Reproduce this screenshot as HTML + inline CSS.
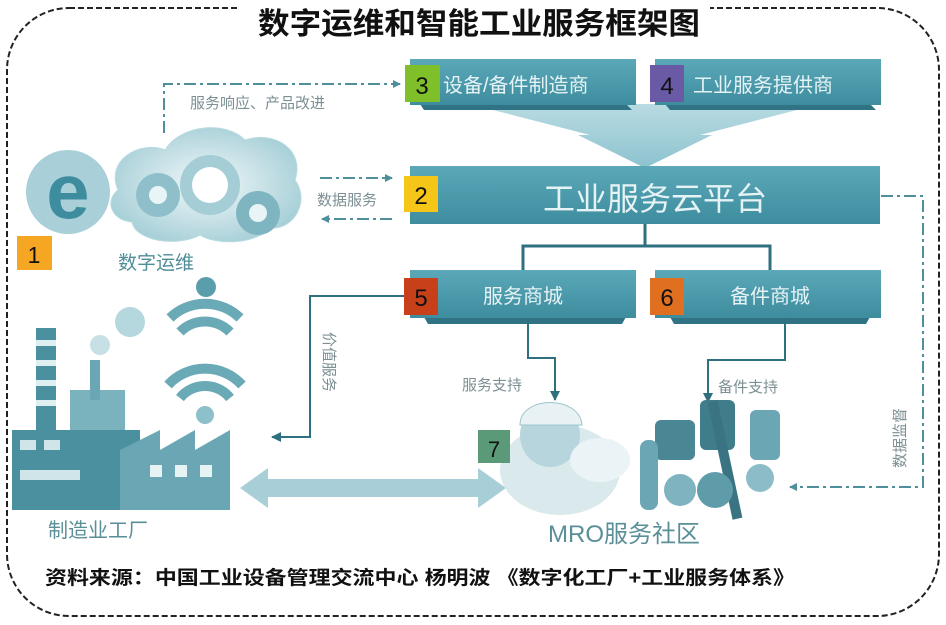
<!DOCTYPE html>
<html><head><meta charset="utf-8"><style>
html,body{margin:0;padding:0;background:#fff;}
svg{display:block;}
text{font-family:"Liberation Sans","Noto Sans CJK SC",sans-serif;}
</style></head><body>
<svg width="946" height="625" viewBox="0 0 946 625" xmlns="http://www.w3.org/2000/svg">
<defs>
<linearGradient id="bx" x1="0" y1="0" x2="0" y2="1"><stop offset="0" stop-color="#5aa8b8"/><stop offset="1" stop-color="#3e8d9f"/></linearGradient>
<linearGradient id="fn" x1="0" y1="0" x2="0" y2="1"><stop offset="0" stop-color="#b9dbe2"/><stop offset="1" stop-color="#8cc3cf"/></linearGradient>
<radialGradient id="cl" cx="0.5" cy="0.5" r="0.6"><stop offset="0" stop-color="#f2f9fa"/><stop offset="1" stop-color="#9fcbd4"/></radialGradient>
<marker id="ah" markerWidth="8" markerHeight="8" refX="7" refY="4" orient="auto" markerUnits="userSpaceOnUse"><path d="M0,0 L8,4 L0,8 z" fill="#4f8f9c"/></marker>
<marker id="ah2" markerWidth="10" markerHeight="10" refX="9" refY="5" orient="auto" markerUnits="userSpaceOnUse"><path d="M0,0 L10,5 L0,10 z" fill="#2f7080"/></marker>
</defs>
<rect x="7" y="8" width="932" height="608" rx="62" fill="none" stroke="#222" stroke-width="2" stroke-dasharray="6,3"/>
<rect x="240" y="2" width="470" height="34" fill="#fff"/>
<text x="258" y="34" font-size="30" font-weight="bold" textLength="442" lengthAdjust="spacingAndGlyphs" fill="#111">数字运维和智能工业服务框架图</text>

<!-- funnel -->
<path d="M470,104 L820,104 L700,135 L712,135 L645,168 L578,135 L590,135 Z" fill="url(#fn)"/>
<!-- top boxes -->
<path d="M420,104 L626,104 L632,110 L424,110 Z" fill="#2f7385"/>
<rect x="410" y="59" width="226" height="46" fill="url(#bx)"/>
<path d="M665,104 L870,104 L876,110 L670,110 Z" fill="#2f7385"/>
<rect x="655" y="59" width="226" height="46" fill="url(#bx)"/>
<rect x="405" y="65" width="35" height="37" fill="#7ebf2a"/><text x="422" y="94" font-size="24" text-anchor="middle" fill="#111">3</text>
<text x="443" y="92" font-size="20" fill="#e6f3f5">设备/备件制造商</text>
<rect x="650" y="65" width="34" height="37" fill="#6a5aa6"/><text x="667" y="94" font-size="24" text-anchor="middle" fill="#111">4</text>
<text x="693" y="92" font-size="20" fill="#e6f3f5">工业服务提供商</text>

<!-- box 2 -->
<rect x="410" y="166" width="470" height="58" fill="url(#bx)"/>
<rect x="404" y="176" width="34" height="36" fill="#f5c518"/><text x="421" y="204" font-size="24" text-anchor="middle" fill="#111">2</text>
<text x="655" y="210" font-size="32" text-anchor="middle" fill="#e6f3f5">工业服务云平台</text>

<!-- tree -->
<path d="M645,224 V246 M523,270 V246 H770 V270" stroke="#2f7080" stroke-width="3" fill="none"/>

<!-- box 5,6 -->
<path d="M424,317 L626,317 L622,324 L428,324 Z" fill="#2f7385"/>
<rect x="410" y="270" width="226" height="48" fill="url(#bx)"/>
<path d="M670,317 L870,317 L866,324 L674,324 Z" fill="#2f7385"/>
<rect x="655" y="270" width="226" height="48" fill="url(#bx)"/>
<rect x="404" y="278" width="34" height="37" fill="#c8401a"/><text x="421" y="306" font-size="24" text-anchor="middle" fill="#111">5</text>
<text x="523" y="303" font-size="20" text-anchor="middle" fill="#e6f3f5">服务商城</text>
<rect x="650" y="278" width="34" height="37" fill="#e07020"/><text x="667" y="306" font-size="24" text-anchor="middle" fill="#111">6</text>
<text x="770" y="303" font-size="20" text-anchor="middle" fill="#e6f3f5">备件商城</text>

<!-- solid connectors -->
<path d="M528,318 V358 H555 V400" stroke="#2f7080" stroke-width="2" fill="none" marker-end="url(#ah2)"/>
<path d="M785,318 V360 H708 V402" stroke="#2f7080" stroke-width="2" fill="none" marker-end="url(#ah2)"/>
<path d="M404,296 H310 V437 H272" stroke="#2f7080" stroke-width="2" fill="none" marker-end="url(#ah2)"/>
<text x="462" y="390" font-size="15" fill="#7c8f93">服务支持</text>
<text x="718" y="392" font-size="15" fill="#7c8f93">备件支持</text>
<text transform="translate(324,332) rotate(90)" font-size="15" fill="#7c8f93">价值服务</text>

<!-- dash-dot connectors -->
<g stroke="#4f8f9c" stroke-width="2" fill="none" stroke-dasharray="12,4,3,4">
<path d="M164,133 V84 H400" marker-end="url(#ah)"/>
<path d="M320,178 H392" marker-end="url(#ah)"/>
<path d="M392,219 H322" marker-end="url(#ah)"/>
<path d="M881,196 H923 V487 H790" marker-end="url(#ah)"/>
</g>
<text x="190" y="108" font-size="15" fill="#7c8f93">服务响应、产品改进</text>
<text x="317" y="205" font-size="15" fill="#7c8f93">数据服务</text>
<text transform="translate(905,468) rotate(-90)" font-size="15" fill="#7c8f93">数据监督</text>

<!-- e icon + cloud -->
<circle cx="68" cy="192" r="42" fill="#a9d0d8"/>
<text x="68" y="218" font-size="78" font-weight="bold" text-anchor="middle" fill="#3e8d9f">e</text>
<path d="M118,190 C105,160 140,140 165,150 C180,125 225,120 245,140 C275,130 305,150 295,180 C310,200 295,230 270,228 C255,245 215,245 200,235 C175,248 135,240 132,222 C110,220 105,200 118,190 Z" fill="url(#cl)" stroke="#b9dbe2"/>
<circle cx="158" cy="195" r="22" fill="#8fbfca"/><circle cx="158" cy="195" r="9" fill="#e8f4f6"/>
<circle cx="210" cy="185" r="30" fill="#a5cdd6"/><circle cx="210" cy="185" r="18" fill="#fff"/>
<circle cx="258" cy="213" r="22" fill="#7fb5c1"/><circle cx="258" cy="213" r="9" fill="#e8f4f6"/>
<text x="118" y="269" font-size="19" fill="#4f8d98">数字运维</text>
<rect x="17" y="236" width="35" height="34" fill="#f5a623"/><text x="34" y="263" font-size="23" text-anchor="middle" fill="#111">1</text>

<!-- wifi -->
<g fill="none" stroke="#6aa9b6" stroke-width="10">
<path d="M170,318 A50,50 0 0 1 240,318"/>
<path d="M180,332 A35,35 0 0 1 230,332"/>
<path d="M168,385 A50,50 0 0 1 242,385"/>
<path d="M180,398 A32,32 0 0 1 230,398"/>
</g>
<circle cx="206" cy="287" r="10" fill="#5a9eab"/>
<circle cx="205" cy="415" r="9" fill="#8dc0cb"/>
<circle cx="130" cy="322" r="15" fill="#b5d7de"/><circle cx="100" cy="345" r="10" fill="#c6e0e5"/>

<!-- factory -->
<g fill="#5a9eab">
<rect x="36" y="328" width="20" height="110" fill="#4a909f"/>
<rect x="36" y="340" width="20" height="6" fill="#dfeef1"/><rect x="36" y="360" width="20" height="6" fill="#dfeef1"/><rect x="36" y="380" width="20" height="6" fill="#dfeef1"/><rect x="36" y="400" width="20" height="6" fill="#dfeef1"/>
<rect x="70" y="390" width="55" height="50" fill="#7ab2be"/>
<rect x="90" y="360" width="10" height="40" fill="#6aa6b3"/>
<path d="M12,430 H140 V510 H12 Z" fill="#4a909f"/>
<path d="M120,450 L160,430 V450 L195,430 V450 L230,430 V510 H120 Z" fill="#6aa6b3"/>
<rect x="20" y="440" width="16" height="10" fill="#cfe5ea"/><rect x="44" y="440" width="16" height="10" fill="#cfe5ea"/>
<rect x="20" y="470" width="60" height="10" fill="#cfe5ea"/>
<rect x="150" y="465" width="12" height="12" fill="#e7f2f4"/><rect x="175" y="465" width="12" height="12" fill="#e7f2f4"/><rect x="200" y="465" width="12" height="12" fill="#e7f2f4"/>
</g>
<text x="48" y="537" font-size="20" fill="#5a8f98">制造业工厂</text>

<!-- double arrow -->
<path d="M240,488 L268,468 V479 H478 V468 L506,488 L478,508 V497 H268 V508 Z" fill="#a8cfd7"/>

<!-- mechanic -->
<ellipse cx="560" cy="470" rx="60" ry="45" fill="#d9e9ec"/>
<ellipse cx="550" cy="435" rx="30" ry="32" fill="#b7d5dc"/>
<path d="M520,425 C520,395 580,395 582,425 Z" fill="#e8f2f4" stroke="#9cc4cc"/>
<ellipse cx="600" cy="460" rx="30" ry="22" fill="#eaf3f5"/>
<rect x="478" y="430" width="32" height="33" fill="#5a9a78"/><text x="494" y="457" font-size="22" text-anchor="middle" fill="#111">7</text>

<!-- parts -->
<g fill="#5a9aa8">
<rect x="655" y="420" width="40" height="40" rx="6" fill="#4a8795"/>
<rect x="700" y="400" width="35" height="50" rx="6" fill="#3f7d8b"/>
<rect x="750" y="410" width="30" height="50" rx="6" fill="#6aa6b3"/>
<rect x="720" y="400" width="10" height="120" transform="rotate(-12 725 460)" fill="#3a7482"/>
<circle cx="680" cy="490" r="16" fill="#7fb3bf"/><circle cx="715" cy="490" r="18" fill="#5f9caa"/><circle cx="760" cy="478" r="14" fill="#8cbcc7"/>
<rect x="640" y="440" width="18" height="70" rx="8" fill="#6aa6b3"/>
</g>
<text x="548" y="542" font-size="24" fill="#5a8f98">MRO服务社区</text>

<text x="45" y="584" font-size="19" font-weight="bold" textLength="750" lengthAdjust="spacingAndGlyphs" fill="#111">资料来源：中国工业设备管理交流中心  杨明波  《数字化工厂+工业服务体系》</text>
</svg>
</body></html>
